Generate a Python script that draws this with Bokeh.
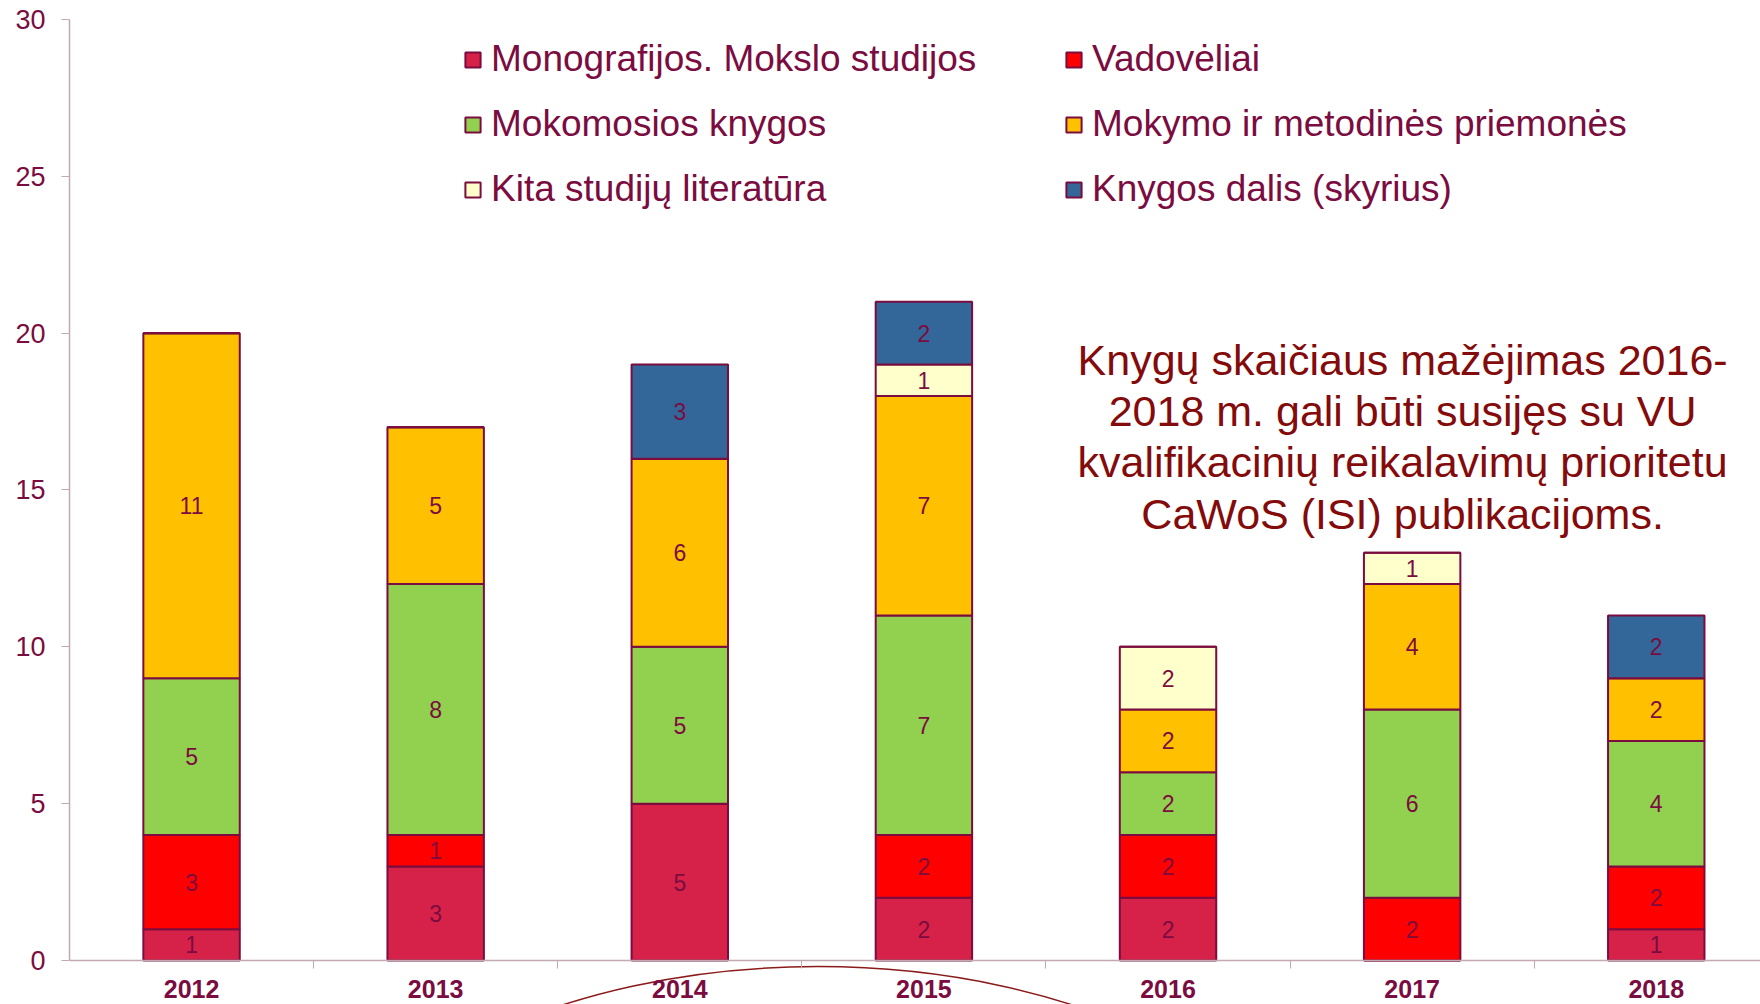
from bokeh.plotting import figure
from bokeh.models import (ColumnDataSource, Range1d, FixedTicker, Legend, LegendItem, Label)
from bokeh.embed import file_html
from bokeh.resources import INLINE
from bokeh.core.properties import value

# ---------------- data ----------------
years = ["2012", "2013", "2014", "2015", "2016", "2017", "2018"]
series_names = ["Monografijos. Mokslo studijos", "Vadovėliai", "Mokomosios knygos",
                "Mokymo ir metodinės priemonės", "Kita studijų literatūra",
                "Knygos dalis (skyrius)"]
monografijos = [1, 3, 5, 2, 2, 0, 1]
vadoveliai = [3, 1, 0, 2, 2, 2, 2]
mokomosios = [5, 8, 5, 7, 2, 6, 4]
mokymo = [11, 5, 6, 7, 2, 4, 2]
kita = [0, 0, 0, 1, 2, 1, 0]
knygos_dalis = [0, 0, 3, 2, 0, 0, 2]
y_ticks = [0, 5, 10, 15, 20, 25, 30]
note = ("Knygų skaičiaus mažėjimas 2016-\n2018 m. gali būti susijęs su VU\n"
        "kvalifikacinių reikalavimų prioritetu\nCaWoS (ISI) publikacijoms.")

colors = ["#D62248", "#FF0000", "#92D050", "#FFC000", "#FFFFCC", "#336699"]
MAROON = "#7B0C3F"
AXIS = "#C2A9B2"
FONT = "Liberation Sans"

keys = ["s0", "s1", "s2", "s3", "s4", "s5"]
values = [monografijos, vadoveliai, mokomosios, mokymo, kita, knygos_dalis]
xpos = list(range(len(years)))
data = {"x": xpos}
for k, v in zip(keys, values):
    data[k] = v
src = ColumnDataSource(data)

# segment labels (centre of each non-empty segment)
lx, ly, lt = [], [], []
for i in xpos:
    base = 0
    for v in values:
        if v[i] > 0:
            lx.append(i)
            ly.append(base + v[i] / 2)
            lt.append(str(v[i]))
        base += v[i]
lab_src = ColumnDataSource(dict(x=lx, y=ly, t=lt))

# ---------------- figure ----------------
p = figure(width=1760, height=1004, output_backend="svg", toolbar_location=None,
           x_range=Range1d(-0.5, 6.427), y_range=Range1d(-1.403, 30),
           min_border_left=69, min_border_right=0, min_border_top=19,
           min_border_bottom=0)
p.outline_line_color = None
p.xgrid.visible = False
p.ygrid.visible = False
p.background_fill_color = "white"
p.border_fill_color = "white"

rs = p.vbar_stack(keys, x="x", width=0.395, color=colors, line_color=MAROON,
                  line_width=2, source=src)

p.text(x="x", y="y", text="t", source=lab_src, text_align="center",
       text_baseline="middle", text_font_size="23px", text_color=MAROON,
       text_font=value(FONT))

# decorative ellipse below the axis
p.ellipse(x=2.564, y=-8.96, width=4.097, height=17.53, fill_alpha=0,
          line_color="#8B1A1A", line_width=1.5)

# axes
p.xaxis.fixed_location = 0
p.xaxis.ticker = FixedTicker(ticks=xpos, minor_ticks=[i + 0.5 for i in xpos[:-1]])
p.xaxis.major_label_overrides = {i: y for i, y in zip(xpos, years)}
p.xaxis.major_tick_out = 0
p.xaxis.major_tick_in = 0
p.xaxis.minor_tick_out = 8
p.xaxis.minor_tick_in = 0
p.xaxis.minor_tick_line_color = AXIS
p.xaxis.axis_line_color = AXIS
p.xaxis.axis_line_width = 1.5
p.xaxis.major_label_standoff = 12
p.xaxis.major_label_text_font = FONT
p.xaxis.major_label_text_font_style = "bold"
p.xaxis.major_label_text_font_size = "25px"
p.xaxis.major_label_text_color = MAROON

p.yaxis.bounds = (0, 30)
p.yaxis.ticker = FixedTicker(ticks=y_ticks, minor_ticks=[])
p.yaxis.major_tick_out = 8
p.yaxis.major_tick_in = 0
p.yaxis.major_tick_line_color = AXIS
p.yaxis.axis_line_color = AXIS
p.yaxis.axis_line_width = 1.5
p.yaxis.major_label_standoff = 16
p.yaxis.major_label_text_font = FONT
p.yaxis.major_label_text_font_size = "27px"
p.yaxis.major_label_text_color = MAROON

# legend (column-major order -> two columns read row by row)
order = [0, 2, 4, 1, 3, 5]
items = [LegendItem(label=series_names[i], renderers=[rs[i]]) for i in order]
legend = Legend(items=items, ncols=2, location=(394, 794),
                glyph_width=19, glyph_height=19, label_height=40,
                label_standoff=9, label_width=550, spacing=23, padding=0,
                margin=0, border_line_color=None, background_fill_alpha=0,
                label_text_font=FONT, label_text_font_size="37px",
                label_text_color=MAROON)
p.add_layout(legend, "center")

# note
p.add_layout(Label(x=4.961, y=16.7, text=note, text_align="center",
                   text_baseline="middle", text_font=FONT,
                   text_font_size="43px", text_line_height=1.07,
                   text_color="#840B0B"))

open("out.html", "w").write(file_html(p, INLINE))
